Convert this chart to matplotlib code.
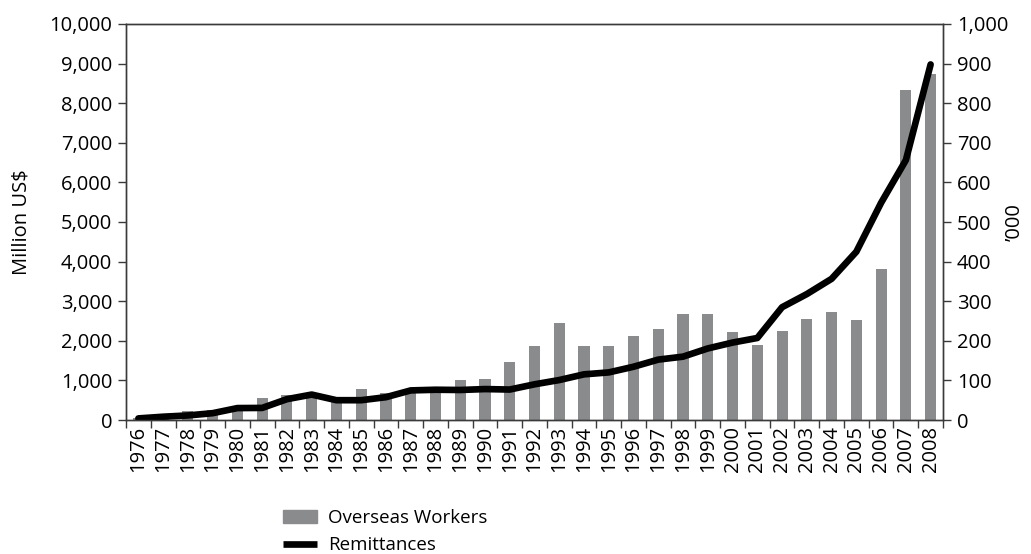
import numpy as np
import matplotlib
matplotlib.use("Agg")
import matplotlib.pyplot as plt
from matplotlib.ticker import FuncFormatter, FixedLocator
from matplotlib.lines import Line2D
from matplotlib.patches import Patch

plt.rcParams["font.family"] = ["Open Sans", "DejaVu Sans"]

# ── Data ──────────────────────────────────────────────────────────────────────
years = list(range(1976, 2009))
workers = [6, 16, 23, 24, 30, 56, 63, 59, 57, 78, 69, 74, 68, 102, 104, 147,
           188, 245, 186, 188, 212, 231, 268, 268, 223, 189, 225, 254, 273, 253,
           382, 833, 875]                      # '000
remittances = [40, 83, 115, 172, 301, 305, 526, 642, 500, 500, 576, 747, 764,
               758, 781, 769, 901, 1009, 1153, 1202, 1345, 1525, 1600, 1807,
               1955, 2071, 2848, 3180, 3565, 4250, 5485, 6562, 8979]  # Million US$

x = np.arange(len(years))
spine_col = "#3a3a3a"
bar_col = "#8a8b8d"
fs = 14.5

fig = plt.figure(figsize=(10.31, 5.54), dpi=100)
ax = fig.add_axes([126 / 1031, 1 - 420 / 554, 817 / 1031, 396 / 554])
ax2 = ax.twinx()

# bars on right axis ('000), line on left axis (Million US$)
ax2.bar(x, workers, width=0.45, color=bar_col)
ax.plot(x, remittances, color="black", lw=4.8, solid_joinstyle="round",
        solid_capstyle="round")
ax.set_zorder(ax2.get_zorder() + 1)
ax.patch.set_visible(False)

ax.set_xlim(-0.5, len(years) - 0.5)
ax.set_ylim(0, 10000)
ax2.set_ylim(0, 1000)
ax.set_yticks(np.arange(0, 10001, 1000))
ax2.set_yticks(np.arange(0, 1001, 100))
ax.yaxis.set_major_formatter(FuncFormatter(lambda v, p: f"{int(v):,}"))
ax2.yaxis.set_major_formatter(FuncFormatter(lambda v, p: f"{int(v):,}"))

ax.set_xticks(x)
ax.set_xticklabels([str(y) for y in years], rotation=90)
ax.xaxis.set_minor_locator(FixedLocator(np.arange(-0.5, len(years), 1)))
ax.tick_params(axis="x", which="major", length=0, pad=4, labelsize=fs)
ax.tick_params(axis="x", which="minor", length=6, width=1, color=spine_col)
ax.tick_params(axis="y", length=6, width=1, color=spine_col, labelsize=fs, pad=4)
ax2.tick_params(axis="y", length=6, width=1, color=spine_col, labelsize=fs, pad=4)

for a in (ax, ax2):
    for s in a.spines.values():
        s.set_color(spine_col)
        s.set_linewidth(1)

fig.text(22 / 1031, 1 - 222 / 554, "Million US$", rotation=90,
         ha="center", va="center", fontsize=fs)
fig.text(1015 / 1031, 1 - 222 / 554, "\u2019000", rotation=90,
         ha="center", va="center", fontsize=fs)

handles = [Patch(color=bar_col),
           Line2D([], [], color="black", lw=4.8, solid_capstyle="butt")]
fig.legend(handles, ["Overseas Workers", "Remittances"], loc="upper left",
           bbox_to_anchor=(283 / 1031, 1 - 509 / 554), frameon=False,
           fontsize=13.5, handlelength=1.8, handletextpad=0.6, labelspacing=0.5,
           borderpad=0, borderaxespad=0)

plt.savefig("out.png", dpi=100)
plt.close()
